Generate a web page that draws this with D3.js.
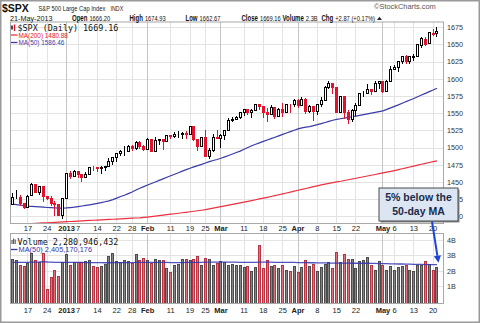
<!DOCTYPE html>
<html>
<head>
<meta charset="utf-8">
<script src="https://cdn.jsdelivr.net/npm/d3@7"></script>
<style>
  body { margin: 0; background: #fff; }
  svg { display: block; }
  text { font-family: "Liberation Sans", Arial, sans-serif; }
  .mono { font-family: "DejaVu Sans Mono", "Liberation Mono", monospace; }
</style>
</head>
<body>
<svg id="chart" width="480" height="323"></svg>
<script>
// ---- S&P 500 daily prices, 11 Dec 2012 – 21 May 2013 ----
const dates = [
  "2012-12-11","2012-12-12","2012-12-13","2012-12-14","2012-12-17","2012-12-18","2012-12-19","2012-12-20","2012-12-21","2012-12-24","2012-12-26","2012-12-27","2012-12-28","2012-12-31",
  "2013-01-02","2013-01-03","2013-01-04","2013-01-07","2013-01-08","2013-01-09","2013-01-10","2013-01-11","2013-01-14","2013-01-15","2013-01-16","2013-01-17","2013-01-18","2013-01-22","2013-01-23","2013-01-24","2013-01-25","2013-01-28","2013-01-29","2013-01-30","2013-01-31",
  "2013-02-01","2013-02-04","2013-02-05","2013-02-06","2013-02-07","2013-02-08","2013-02-11","2013-02-12","2013-02-13","2013-02-14","2013-02-15","2013-02-19","2013-02-20","2013-02-21","2013-02-22","2013-02-25","2013-02-26","2013-02-27","2013-02-28",
  "2013-03-01","2013-03-04","2013-03-05","2013-03-06","2013-03-07","2013-03-08","2013-03-11","2013-03-12","2013-03-13","2013-03-14","2013-03-15","2013-03-18","2013-03-19","2013-03-20","2013-03-21","2013-03-22","2013-03-25","2013-03-26","2013-03-27","2013-03-28",
  "2013-04-01","2013-04-02","2013-04-03","2013-04-04","2013-04-05","2013-04-08","2013-04-09","2013-04-10","2013-04-11","2013-04-12","2013-04-15","2013-04-16","2013-04-17","2013-04-18","2013-04-19","2013-04-22","2013-04-23","2013-04-24","2013-04-25","2013-04-26","2013-04-29","2013-04-30",
  "2013-05-01","2013-05-02","2013-05-03","2013-05-06","2013-05-07","2013-05-08","2013-05-09","2013-05-10","2013-05-13","2013-05-14","2013-05-15","2013-05-16","2013-05-17","2013-05-20","2013-05-21"
];

const opens = [
  1418.55,1427.84,1428.48,1419.45,1413.54,1430.47,1446.79,1435.81,1443.67,1430.15,1426.66,1419.83,1418.10,1402.43,
  1426.19,1462.42,1459.37,1466.47,1461.89,1457.15,1461.02,1472.12,1472.05,1470.67,1472.33,1472.63,1480.95,1485.98,1492.56,1494.81,1494.82,1502.96,1500.18,1507.84,1501.96,
  1498.11,1513.17,1495.71,1511.29,1512.12,1509.39,1517.93,1517.01,1519.43,1520.33,1521.38,1519.79,1530.94,1511.95,1502.42,1515.60,1487.85,1496.94,1515.99,
  1514.68,1518.20,1525.20,1539.79,1541.46,1544.26,1551.15,1556.22,1552.48,1554.52,1563.21,1560.70,1552.10,1548.34,1558.71,1545.90,1556.89,1551.69,1563.75,1562.86,
  1569.18,1562.17,1570.25,1553.69,1559.98,1553.26,1563.11,1568.61,1587.73,1593.30,1588.84,1552.36,1574.57,1552.03,1541.61,1555.25,1562.50,1578.78,1578.78,1585.16,1582.34,1593.58,
  1597.55,1582.77,1597.60,1614.40,1617.55,1625.95,1632.69,1626.69,1632.10,1633.75,1649.13,1658.07,1652.45,1665.71,1666.20
];
const highs = [
  1434.27,1438.59,1431.36,1419.45,1430.67,1448.00,1447.75,1443.70,1443.67,1430.15,1429.42,1422.80,1418.10,1425.53,
  1462.43,1465.47,1467.94,1466.47,1461.89,1464.73,1472.30,1472.75,1472.05,1473.31,1473.96,1485.16,1485.98,1492.56,1496.13,1502.27,1503.26,1503.23,1509.35,1509.94,1504.19,
  1514.41,1513.17,1514.96,1512.53,1512.90,1518.31,1518.31,1522.29,1524.69,1523.14,1524.24,1530.94,1530.94,1511.95,1515.64,1525.84,1498.99,1520.08,1525.34,
  1519.99,1525.27,1543.47,1545.25,1545.78,1552.48,1556.27,1556.77,1556.39,1563.32,1563.62,1560.70,1557.25,1561.56,1558.71,1557.74,1564.91,1563.95,1564.07,1570.28,
  1570.57,1573.66,1571.47,1562.60,1559.98,1563.07,1573.89,1589.07,1597.35,1593.30,1588.84,1575.35,1574.57,1554.38,1555.89,1565.55,1579.58,1583.00,1592.64,1585.78,1596.65,1597.57,
  1597.55,1598.60,1618.46,1619.77,1626.03,1632.78,1635.01,1633.70,1636.00,1651.10,1661.49,1660.51,1667.47,1672.84,1674.93
];
const lows = [
  1418.55,1426.76,1416.00,1411.88,1413.54,1430.47,1435.80,1432.82,1422.58,1424.66,1416.43,1401.80,1401.58,1398.04,
  1426.19,1455.53,1458.99,1456.62,1451.64,1457.15,1461.02,1467.58,1465.69,1463.76,1467.60,1472.63,1475.81,1481.16,1489.90,1489.46,1494.82,1496.33,1498.09,1500.11,1496.76,
  1498.11,1495.02,1495.71,1504.71,1498.49,1509.39,1513.61,1515.61,1515.93,1514.02,1514.14,1519.79,1511.41,1497.29,1502.42,1487.85,1485.01,1494.88,1514.46,
  1501.48,1512.29,1525.20,1538.11,1541.46,1542.94,1547.36,1548.24,1544.00,1554.52,1555.74,1545.13,1538.57,1548.34,1543.55,1545.90,1546.22,1551.69,1551.90,1561.08,
  1558.47,1562.17,1549.80,1552.52,1539.50,1548.63,1560.92,1568.61,1586.17,1579.97,1552.28,1552.36,1543.69,1536.03,1539.40,1548.19,1562.50,1575.80,1578.78,1577.56,1582.34,1586.50,
  1581.28,1582.77,1597.60,1614.21,1611.82,1622.70,1623.09,1623.71,1626.74,1633.75,1646.68,1648.60,1652.45,1663.52,1662.67
];
const closes = [
  1427.84,1428.48,1419.45,1413.58,1430.36,1446.79,1435.81,1443.69,1430.15,1426.66,1419.83,1418.10,1402.43,1426.19,
  1462.42,1459.37,1466.47,1461.89,1457.15,1461.02,1472.12,1472.05,1470.68,1472.34,1472.63,1480.94,1485.98,1492.56,1494.81,1494.82,1502.96,1500.18,1507.84,1501.96,1498.11,
  1513.17,1495.71,1511.29,1512.12,1509.39,1517.93,1517.01,1519.43,1520.33,1521.38,1519.79,1530.94,1511.95,1502.42,1515.60,1487.85,1496.94,1515.99,1514.68,
  1518.20,1525.20,1539.79,1541.46,1544.26,1551.18,1556.22,1552.48,1554.52,1563.23,1560.70,1552.10,1548.34,1558.71,1545.80,1556.89,1551.69,1563.77,1562.85,1569.19,
  1562.17,1570.25,1553.69,1559.98,1553.28,1563.07,1568.61,1587.73,1593.37,1588.85,1552.36,1574.57,1552.01,1541.61,1555.25,1562.50,1578.78,1578.79,1585.16,1582.24,1593.61,1597.57,
  1582.70,1597.59,1614.42,1617.50,1625.96,1632.69,1626.67,1633.70,1633.77,1650.34,1658.78,1650.47,1667.47,1666.29,1669.16
];

// 50-day and 200-day moving averages of the close
const ma50 = [
  1418.0,1417.1,1416.3,1415.5,1414.9,1414.5,1414.1,1413.8,1413.4,1413.0,1412.7,1412.4,1412.2,1412.1,
  1412.3,1412.8,1413.4,1414.2,1415.1,1416.0,1416.9,1417.9,1418.9,1420.0,1421.3,1422.7,1424.4,1426.6,1428.9,1430.7,1433.1,1435.6,1438.3,1441.0,1443.3,
  1445.6,1447.8,1450.1,1452.4,1454.6,1457.0,1459.2,1461.3,1463.4,1465.8,1468.0,1470.1,1472.0,1473.9,1475.7,1477.7,1479.6,1481.3,1482.8,
  1484.6,1486.6,1488.6,1490.7,1492.9,1495.0,1497.6,1500.3,1502.8,1504.9,1507.0,1509.1,1511.1,1513.1,1515.1,1517.2,1519.3,1521.3,1523.3,1525.3,
  1527.3,1528.8,1529.8,1530.5,1531.9,1533.4,1535.0,1536.6,1538.3,1539.8,1541.0,1542.0,1543.0,1543.9,1544.9,1545.9,1546.9,1547.9,1549.0,1550.1,1551.2,1552.3,
  1553.5,1555.6,1557.8,1560.0,1562.2,1564.6,1567.0,1569.2,1571.4,1573.9,1576.5,1578.9,1581.5,1583.9,1586.46
];
const ma200 = [
  1388.2,1388.5,1388.8,1389.0,1389.3,1389.6,1389.9,1390.2,1390.5,1390.8,1391.1,1391.4,1391.7,1392.0,
  1392.3,1392.6,1392.9,1393.2,1393.5,1393.8,1394.1,1394.4,1394.7,1395.0,1395.3,1395.6,1395.9,1396.2,1396.5,1396.8,1397.1,1397.4,1397.7,1398.0,1398.5,
  1399.1,1399.8,1400.4,1401.1,1401.8,1402.5,1403.2,1403.9,1404.6,1405.3,1406.0,1406.8,1407.5,1408.2,1409.0,1409.8,1410.9,1412.0,1413.1,
  1414.2,1415.3,1416.4,1417.5,1418.6,1419.7,1420.8,1421.9,1423.0,1424.2,1425.4,1426.6,1427.8,1429.0,1430.2,1431.5,1432.8,1434.1,1435.4,1436.7,
  1438.0,1439.3,1440.6,1441.9,1443.2,1444.5,1445.8,1447.0,1448.1,1449.2,1450.2,1451.1,1452.2,1453.3,1454.4,1455.5,1456.6,1457.7,1458.8,1459.9,1461.0,1462.1,
  1463.2,1464.3,1465.4,1466.7,1468.0,1469.3,1470.6,1471.9,1473.2,1474.5,1475.8,1477.1,1478.4,1479.6,1480.88
];

// Daily volume (billions of shares) and its 50-day average
const volumes = [
  2.79,2.73,2.37,2.30,2.52,3.14,2.69,2.58,3.14,0.84,1.61,2.04,1.66,2.60,
  3.10,2.37,2.60,2.56,2.60,2.67,2.71,2.30,2.24,2.35,2.45,2.95,3.16,2.62,2.56,2.73,2.62,2.52,3.10,2.69,2.84,
  2.73,2.52,2.77,2.69,2.69,2.19,1.91,2.41,2.47,2.79,2.79,2.73,2.79,2.95,2.41,2.84,2.80,2.41,2.52,
  2.62,2.56,2.37,2.45,2.40,2.37,2.24,2.30,1.98,2.24,3.70,2.19,2.69,2.35,2.37,2.19,2.37,2.05,1.98,2.35,
  1.91,2.24,2.73,2.30,2.47,2.02,2.24,2.45,2.58,2.19,3.22,2.56,3.10,2.77,2.79,2.19,2.62,2.73,2.90,2.37,2.09,2.62,
  2.41,2.09,2.35,2.09,2.26,2.35,2.37,2.09,1.98,2.37,2.37,2.62,2.47,2.09,2.28
];
const volumeMa50 = [
  2.55,2.55,2.55,2.55,2.56,2.57,2.57,2.58,2.60,2.58,2.57,2.56,2.55,2.55,
  2.56,2.56,2.55,2.55,2.55,2.54,2.54,2.54,2.54,2.54,2.53,2.53,2.54,2.54,2.54,2.54,2.54,2.54,2.55,2.55,2.55,
  2.55,2.55,2.55,2.55,2.55,2.55,2.54,2.54,2.54,2.54,2.55,2.55,2.55,2.56,2.56,2.57,2.57,2.57,2.57,
  2.57,2.57,2.57,2.57,2.57,2.56,2.56,2.56,2.55,2.55,2.57,2.57,2.57,2.57,2.56,2.56,2.56,2.55,2.55,2.55,
  2.54,2.54,2.54,2.53,2.53,2.52,2.52,2.52,2.51,2.51,2.51,2.51,2.51,2.51,2.50,2.50,2.50,2.50,2.50,2.49,2.49,2.48,
  2.48,2.47,2.46,2.46,2.45,2.45,2.44,2.44,2.43,2.42,2.42,2.41,2.41,2.41,2.405
];

// Axis ticks
const priceTicks = [1400,1425,1450,1475,1500,1525,1550,1575,1600,1625,1650,1675];
const volumeTicks = [1,2,3,4];
const volumeTickLabels = ["1B","2B","3B","4B"];
const dateTicks = ["2012-12-17","2012-12-24","2013-01-02","2013-01-07","2013-01-14","2013-01-22","2013-01-28",
  "2013-02-01","2013-02-11","2013-02-19","2013-02-25","2013-03-01","2013-03-11","2013-03-18","2013-03-25",
  "2013-04-01","2013-04-08","2013-04-15","2013-04-22","2013-05-01","2013-05-06","2013-05-13","2013-05-20"];
const dateTickLabels = ["17","24","2013","7","14","22","28","Feb","11","19","25","Mar","11","18","25",
  "Apr","8","15","22","May","6","13","20"];

// ---- layout ----
const svg = d3.select("#chart");
const P = { l: 10.5, r: 443.5, t: 22, b: 223.5 };     // price panel
const V = { l: 10.5, r: 443.5, t: 233.5, b: 303.5 };  // volume panel

const rows = dates.map((d, k) => ({
  date: d, open: opens[k], high: highs[k], low: lows[k], close: closes[k],
  volume: volumes[k], ma50: ma50[k], ma200: ma200[k], vma: volumeMa50[k],
  prev: k > 0 ? closes[k - 1] : opens[k],
  monthStart: k > 0 && d.slice(5, 7) !== dates[k - 1].slice(5, 7)
}));
const monthStarts = new Set(rows.filter(r => r.monthStart).map(r => r.date));

const x = d3.scaleBand().domain(dates).range([10.6, 438.9]);
const cx = d => x(d) + x.bandwidth() / 2;
const col = d => Math.floor(cx(d));
const y = d3.scaleLinear().domain([1389.7, 1682.7]).range([P.b, P.t]);
const yv = d3.scaleLinear().domain([-0.1, 4.42]).range([V.b, V.t]);

const RED = "#e4102c", BLACK = "#000", BLUE = "#3a3aa8";

const defs = svg.append("defs");
defs.append("clipPath").attr("id", "clipP").append("rect")
  .attr("x", P.l).attr("y", P.t).attr("width", P.r - P.l).attr("height", P.b - P.t);
defs.append("clipPath").attr("id", "clipV").append("rect")
  .attr("x", V.l).attr("y", V.t).attr("width", V.r - V.l).attr("height", V.b - V.t);

// outer frame
svg.append("rect").attr("x", 0.75).attr("y", 0.75).attr("width", 478.5).attr("height", 321.5)
  .attr("fill", "#fff").attr("stroke", "#9a9a9a").attr("stroke-width", 1.5);

// panel backgrounds + grids
function panelGrid(box, yScale, ticks) {
  const g = svg.append("g");
  g.append("rect").attr("x", box.l).attr("y", box.t).attr("width", box.r - box.l).attr("height", box.b - box.t)
    .attr("fill", "#fff");
  g.selectAll("line.h").data(ticks).join("line")
    .attr("x1", box.l).attr("x2", box.r)
    .attr("y1", d => Math.round(yScale(d)) + 0.5).attr("y2", d => Math.round(yScale(d)) + 0.5)
    .attr("stroke", "#e3e3e3").attr("stroke-width", 1);
  g.selectAll("line.v").data(dateTicks).join("line")
    .attr("x1", d => col(d) + 0.5).attr("x2", d => col(d) + 0.5)
    .attr("y1", box.t).attr("y2", box.b)
    .attr("stroke", d => monthStarts.has(d) ? "#c4c4c4" : "#e3e3e3").attr("stroke-width", 1);
  return g;
}
panelGrid(P, y, priceTicks);
panelGrid(V, yv, volumeTicks);

// ---- price panel ----
const pg = svg.append("g").attr("clip-path", "url(#clipP)");

const lineMA = key => d3.line().x(d => cx(d.date)).y(d => y(d[key]));
pg.append("path").datum(rows).attr("d", lineMA("ma200"))
  .attr("fill", "none").attr("stroke", "#ee3040").attr("stroke-width", 1.2);
pg.append("path").datum(rows).attr("d", lineMA("ma50"))
  .attr("fill", "none").attr("stroke", BLUE).attr("stroke-width", 1.2);

const candle = pg.selectAll("g.c").data(rows).join("g").attr("class", "c");
candle.append("line")
  .attr("x1", d => col(d.date) + 0.5).attr("x2", d => col(d.date) + 0.5)
  .attr("y1", d => Math.round(y(d.high))).attr("y2", d => Math.round(y(d.low)) + 1)
  .attr("stroke", d => d.close >= d.prev ? BLACK : RED).attr("stroke-width", 1);
candle.append("rect")
  .attr("x", d => col(d.date) - 0.5).attr("width", 2)
  .attr("y", d => Math.round(y(Math.max(d.open, d.close))) + 0.5)
  .attr("height", d => Math.max(0, Math.round(y(Math.min(d.open, d.close))) - Math.round(y(Math.max(d.open, d.close)))))
  .attr("fill", d => d.close >= d.open ? "#fff" : (d.close >= d.prev ? BLACK : RED))
  .attr("stroke", d => d.close >= d.prev ? BLACK : RED).attr("stroke-width", 1);

// panel border
svg.append("rect").attr("x", P.l).attr("y", P.t).attr("width", P.r - P.l).attr("height", P.b - P.t)
  .attr("fill", "none").attr("stroke", "#a8a8a8");

// price axis (right)
const ya = svg.append("g").attr("transform", `translate(${P.r},0)`)
  .call(d3.axisRight(y).tickValues(priceTicks).tickSize(0).tickPadding(3.5).tickFormat(d3.format("d")));
ya.select(".domain").remove();
ya.selectAll("text").attr("font-size", 7.2).attr("fill", "#333").attr("font-family", "Liberation Sans, Arial");

// date axis under a panel
function dateAxis(yPos, pad) {
  const g = svg.append("g").attr("transform", `translate(0,${yPos})`)
    .call(d3.axisBottom(x).tickValues(dateTicks).tickSize(0).tickPadding(pad)
      .tickFormat((d, i) => dateTickLabels[i]));
  g.select(".domain").remove();
  g.selectAll("text").attr("font-size", 7.5).attr("fill", "#222").attr("font-family", "Liberation Sans, Arial")
    .attr("font-weight", d => monthStarts.has(d) ? "bold" : "normal");
}
dateAxis(P.b, 2.3);

// legend (price)
const lg = svg.append("g");
[[12, 25.5, 29.5, BLACK], [14.5, 24.5, 31, RED]].forEach(([xx, y1, y2, c]) => {
  lg.append("line").attr("x1", xx).attr("x2", xx).attr("y1", y1).attr("y2", y2).attr("stroke", c).attr("stroke-width", 1.4);
});
lg.append("text").attr("class", "mono").attr("x", 17.5).attr("y", 31).attr("font-size", 8.4).attr("fill", "#111")
  .text("$SPX (Daily) 1669.16");
lg.append("line").attr("x1", 11).attr("x2", 17.5).attr("y1", 35).attr("y2", 35).attr("stroke", "#ee3040").attr("stroke-width", 1.3);
lg.append("text").attr("x", 18.5).attr("y", 37.5).attr("font-size", 6.4).attr("fill", RED).text("MA(200) 1480.88");
lg.append("line").attr("x1", 11).attr("x2", 17.5).attr("y1", 42.5).attr("y2", 42.5).attr("stroke", BLUE).attr("stroke-width", 1.3);
lg.append("text").attr("x", 18.5).attr("y", 45).attr("font-size", 6.4).attr("fill", BLUE).text("MA(50) 1586.46");

// ---- volume panel ----
const vg = svg.append("g").attr("clip-path", "url(#clipV)");
vg.selectAll("rect.v").data(rows).join("rect").attr("class", "v")
  .attr("x", d => col(d.date) - 0.5).attr("width", 2)
  .attr("y", d => Math.round(yv(d.volume)) + 0.5)
  .attr("height", d => V.b + 2 - Math.round(yv(d.volume)))
  .attr("fill", d => d.close >= d.prev ? "#858585" : "#e0727b")
  .attr("stroke", d => d.close >= d.prev ? "#4c4c4c" : "#b83442").attr("stroke-width", 1);
vg.append("path").datum(rows)
  .attr("d", d3.line().x(d => cx(d.date)).y(d => yv(d.vma)))
  .attr("fill", "none").attr("stroke", "#3434b0").attr("stroke-width", 1.3).attr("stroke-opacity", 0.85);

svg.append("rect").attr("x", V.l).attr("y", V.t).attr("width", V.r - V.l).attr("height", V.b - V.t)
  .attr("fill", "none").attr("stroke", "#a8a8a8");

const va = svg.append("g").attr("transform", `translate(${V.r},0)`)
  .call(d3.axisRight(yv).tickValues(volumeTicks).tickSize(0).tickPadding(3.5)
    .tickFormat((d, i) => volumeTickLabels[i]));
va.select(".domain").remove();
va.selectAll("text").attr("font-size", 7.2).attr("fill", "#333").attr("font-family", "Liberation Sans, Arial");

dateAxis(V.b, 4.2);

// volume legend
const vl = svg.append("g");
[[12, 240, 244], [13.6, 238.5, 244], [15.2, 239.5, 244]].forEach(([xx, y1, y2]) => {
  vl.append("line").attr("x1", xx).attr("x2", xx).attr("y1", y1).attr("y2", y2).attr("stroke", "#555").attr("stroke-width", 1.1);
});
vl.append("text").attr("class", "mono").attr("x", 17.5).attr("y", 244.5).attr("font-size", 8.4).attr("fill", "#111")
  .text("Volume 2,280,946,432");
vl.append("line").attr("x1", 11).attr("x2", 17.5).attr("y1", 249.5).attr("y2", 249.5).attr("stroke", "#3434b0").attr("stroke-width", 1.3);
vl.append("text").attr("x", 18.5).attr("y", 252).attr("font-size", 7.4).attr("fill", "#3434b0").text("MA(50) 2,405,170,176");

// ---- header ----
const hd = svg.append("g");
// condensed header text: returns the drawn width
function hText(xx, yy, str, size, bold, sx, fill) {
  const t = hd.append("text").attr("transform", `translate(${xx},${yy}) scale(${sx},1)`)
    .attr("font-size", size).attr("font-weight", bold ? "bold" : "normal")
    .attr("fill", fill || "#111").text(str);
  return t.node().getComputedTextLength() * sx;
}
hText(2, 11.5, "$SPX", 10.5, true, 1);
hText(38.5, 10.8, "S&P 500 Large Cap Index", 8, false, 0.72, "#222");
hText(110.5, 10.8, "INDX", 7, false, 0.76, "#222");
hText(443 - 69, 9.3, "©StockCharts.com", 7.4, false, 1, "#555");

const row2 = [
  [72, "Open", "1666.20"], [129.5, "High", "1674.93"], [185.5, "Low", "1662.67"],
  [241.5, "Close", "1669.16"], [282.5, "Volume", "2.3B"], [321.5, "Chg", "+2.87 (+0.17%)"]
];
hText(10, 20.5, "21-May-2013", 8, false, 0.9);
let endX = 0;
row2.forEach(([xx, label, val]) => {
  const w = hText(xx, 20.5, label, 8.4, true, 0.72);
  const w2 = hText(xx + w + 2, 20.5, val, 7.6, false, 0.76);
  endX = xx + w + 2 + w2;
});
hd.append("path").attr("d", `M${endX + 2},20 L${endX + 4.5},16.8 L${endX + 7},20 Z`).attr("fill", "#222");

// ---- annotation ----
const an = svg.append("g");
an.append("rect").attr("x", 380.5).attr("y", 189.5).attr("width", 79).attr("height", 33)
  .attr("fill", "#8c8c8c");
an.append("rect").attr("x", 379).attr("y", 188).attr("width", 79).attr("height", 33)
  .attr("fill", "#dce6f2").attr("stroke", "#4a4a4a").attr("stroke-width", 1);
an.append("text").attr("x", 418.5).attr("y", 201).attr("text-anchor", "middle").attr("font-family", "Lato, 'Open Sans', sans-serif")
  .attr("font-weight", "bold").attr("font-size", 10.5).attr("fill", "#1b2a48").text("5% below the");
an.append("text").attr("x", 418.5).attr("y", 215).attr("text-anchor", "middle").attr("font-family", "Lato, 'Open Sans', sans-serif")
  .attr("font-weight", "bold").attr("font-size", 10.5).attr("fill", "#1b2a48").text("50-day MA");
// arrow pointing to the last volume bar
const tipX = cx(dates[dates.length - 1]) + 1.5, tipY = yv(volumes[volumes.length - 1]) - 4;
const sx = 432, sy = 221.5;
const ang = Math.atan2(tipY - sy, tipX - sx);
const hl = 7, hw = 3.6;
const bx = tipX - hl * Math.cos(ang), by = tipY - hl * Math.sin(ang);
an.append("line").attr("x1", sx).attr("y1", sy).attr("x2", bx).attr("y2", by)
  .attr("stroke", "#1f45d8").attr("stroke-width", 2);
an.append("path").attr("d",
  `M${tipX},${tipY} L${bx + hw * Math.sin(ang)},${by - hw * Math.cos(ang)} L${bx - hw * Math.sin(ang)},${by + hw * Math.cos(ang)} Z`)
  .attr("fill", "#1f45d8");
</script>
</body>
</html>
